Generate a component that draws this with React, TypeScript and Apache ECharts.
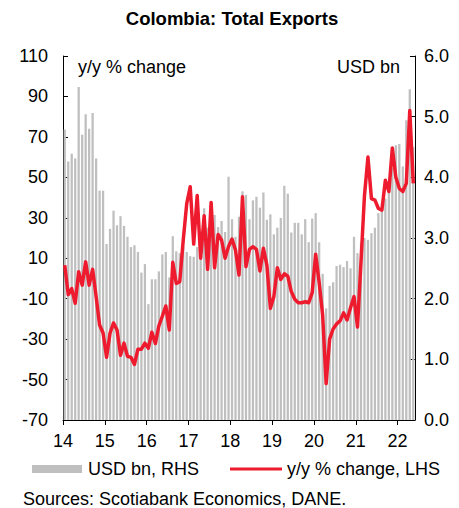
import { useEffect, useRef } from 'react';
import * as echarts from 'echarts';

const FONT = "'Liberation Sans', Arial, sans-serif";
const BAR_COLOR = '#BFBFBF';
const LINE_COLOR = '#EE1B2E';

const START_YEAR = 2014;
const monthNames = ['Jan', 'Feb', 'Mar', 'Apr', 'May', 'Jun', 'Jul', 'Aug', 'Sep', 'Oct', 'Nov', 'Dec'];
const yearTickLabels = ['14', '15', '16', '17', '18', '19', '20', '21', '22'];

// Monthly exports, USD bn (right axis)
const usdBn2014 = [4.79, 4.26, 4.39, 4.31, 5.49, 4.70, 5.04, 4.80, 5.06, 4.31, 3.78, 3.78];
const usdBn2015 = [2.90, 3.15, 3.45, 3.21, 3.36, 3.20, 3.02, 2.85, 2.88, 2.77, 2.43, 2.57];
const usdBn2016 = [1.91, 2.32, 2.32, 2.45, 2.73, 2.77, 2.35, 3.03, 2.78, 2.75, 2.85, 2.77];
const usdBn2017 = [2.70, 2.69, 2.85, 2.88, 3.49, 3.17, 3.30, 3.38, 3.18, 3.28, 3.10, 4.01];
const usdBn2018 = [3.31, 3.02, 3.35, 3.77, 3.71, 3.31, 3.62, 3.68, 3.50, 3.75, 3.30, 3.39];
const usdBn2019 = [3.06, 3.17, 3.33, 3.86, 3.73, 3.09, 3.25, 3.25, 3.06, 3.31, 2.93, 3.32];
const usdBn2020 = [3.41, 2.93, 2.41, 1.84, 2.21, 2.27, 2.54, 2.56, 2.52, 2.62, 2.50, 3.02];
const usdBn2021 = [2.75, 2.92, 3.00, 2.97, 3.08, 3.17, 3.41, 3.57, 3.65, 3.87, 4.15, 4.53];
const usdBn2022 = [4.55, 4.18, 4.94, 5.45, 4.50];

// Year-over-year change, % (left axis)
const yoy2014 = [6.6, -8, -5, -12.3, 3.3, -3.3, 8.2, -3.3, 4.5, -9, -23, -27];
const yoy2015 = [-39, -27, -22, -25.5, -38, -32, -38.5, -39, -42.5, -35, -35, -32];
const yoy2016 = [-34.5, -26.6, -32.2, -23.5, -18.7, -13.6, -25.5, 8, -2.5, -1.6, 19, 37];
const yoy2017 = [45.3, 17, 41, 10, 31, 4.5, 37.6, 5.3, 21.7, 19, 10, 15.8];
const yoy2018 = [19.5, 14, 1.7, 40.4, 5.8, 14.4, 15.7, 14.4, 3.7, 14.9, 6.6, -14.8];
const yoy2019 = [-9, 5.3, -0.5, 2.3, 1.1, -6.5, -10.3, -12, -12, -11.5, -12, -7];
const yoy2020 = [12, -2, -18, -52, -30, -25, -22.5, -21, -17, -20.5, -14.5, -9];
const yoy2021 = [-24, 8, 41, 60, 39.5, 38.7, 34.6, 33.8, 48.6, 43, 64.5, 50];
const yoy2022 = [44.5, 43, 47, 83, 47];

const usdBn = [
  ...usdBn2014, ...usdBn2015, ...usdBn2016, ...usdBn2017, ...usdBn2018,
  ...usdBn2019, ...usdBn2020, ...usdBn2021, ...usdBn2022,
];
const yoyPct = [
  ...yoy2014, ...yoy2015, ...yoy2016, ...yoy2017, ...yoy2018,
  ...yoy2019, ...yoy2020, ...yoy2021, ...yoy2022,
];
const months = usdBn.map(
  (_, i) => `${monthNames[i % 12]} ${START_YEAR + Math.floor(i / 12)}`
);

export default function App() {
  const ref = useRef<HTMLDivElement>(null);

  useEffect(() => {
    if (!ref.current) return;
    const chart = echarts.init(ref.current, null, { renderer: 'svg' });
    const axisText = { color: '#000', fontSize: 18, fontFamily: FONT };
    const black = { color: '#000', width: 1 };

    chart.setOption({
      animation: false,
      backgroundColor: '#fff',
      grid: { left: 63, right: 44, top: 56, bottom: 88 },
      xAxis: [
        {
          type: 'category',
          data: months,
          show: false,
          boundaryGap: true,
        },
        {
          type: 'value',
          min: 0,
          max: months.length,
          interval: 12,
          position: 'bottom',
          axisLine: { show: true, lineStyle: black },
          axisTick: { show: true, length: 5, lineStyle: black },
          axisLabel: {
            ...axisText,
            margin: 12,
            showMaxLabel: false,
            formatter: (v: number) =>
              v % 12 === 0 ? yearTickLabels[v / 12] ?? '' : '',
          },
          splitLine: { show: false },
        },
      ],
      yAxis: [
        {
          type: 'value',
          min: -70,
          max: 110,
          interval: 20,
          position: 'left',
          axisLine: { show: true, lineStyle: black },
          axisTick: { show: true, inside: true, length: 5, lineStyle: black },
          axisLabel: { ...axisText, margin: 15 },
          splitLine: { show: false },
        },
        {
          type: 'value',
          min: 0,
          max: 6,
          interval: 1,
          position: 'right',
          axisLine: { show: true, lineStyle: black },
          axisTick: { show: true, inside: true, length: 5, lineStyle: black },
          axisLabel: {
            ...axisText,
            margin: 9,
            formatter: (v: number) => v.toFixed(1),
          },
          splitLine: { show: false },
        },
      ],
      series: [
        {
          name: 'USD bn, RHS',
          type: 'bar',
          xAxisIndex: 0,
          yAxisIndex: 1,
          data: usdBn,
          barCategoryGap: '35%',
          itemStyle: { color: BAR_COLOR },
          z: 1,
        },
        {
          name: 'y/y % change, LHS',
          type: 'line',
          xAxisIndex: 0,
          yAxisIndex: 0,
          data: yoyPct,
          symbol: 'none',
          lineStyle: { color: LINE_COLOR, width: 3.5, join: 'round' },
          z: 3,
        },
      ],
      graphic: [
        {
          type: 'text',
          x: 232,
          y: 18,
          style: {
            text: 'Colombia: Total Exports',
            fill: '#000',
            font: `bold 18.5px ${FONT}`,
            textAlign: 'center',
            textVerticalAlign: 'middle',
          },
        },
        {
          type: 'text',
          x: 78,
          y: 67,
          style: {
            text: 'y/y % change',
            fill: '#000',
            font: `18px ${FONT}`,
            textAlign: 'left',
            textVerticalAlign: 'middle',
          },
        },
        {
          type: 'text',
          x: 400,
          y: 67,
          style: {
            text: 'USD bn',
            fill: '#000',
            font: `18px ${FONT}`,
            textAlign: 'right',
            textVerticalAlign: 'middle',
          },
        },
        {
          type: 'rect',
          shape: { x: 32, y: 465, width: 50, height: 8 },
          style: { fill: BAR_COLOR },
        },
        {
          type: 'text',
          x: 88,
          y: 469,
          style: {
            text: 'USD bn, RHS',
            fill: '#000',
            font: `18px ${FONT}`,
            textAlign: 'left',
            textVerticalAlign: 'middle',
          },
        },
        {
          type: 'line',
          shape: { x1: 230, y1: 469, x2: 282, y2: 469 },
          style: { stroke: LINE_COLOR, lineWidth: 3 },
        },
        {
          type: 'text',
          x: 287,
          y: 469,
          style: {
            text: 'y/y % change, LHS',
            fill: '#000',
            font: `18px ${FONT}`,
            textAlign: 'left',
            textVerticalAlign: 'middle',
          },
        },
        {
          type: 'text',
          x: 23,
          y: 499,
          style: {
            text: 'Sources: Scotiabank Economics, DANE.',
            fill: '#000',
            font: `18px ${FONT}`,
            textAlign: 'left',
            textVerticalAlign: 'middle',
          },
        },
      ],
    });

    return () => chart.dispose();
  }, []);

  return (
    <div
      ref={ref}
      style={{ position: 'absolute', left: 0, top: 0, width: 459, height: 508 }}
    />
  );
}
